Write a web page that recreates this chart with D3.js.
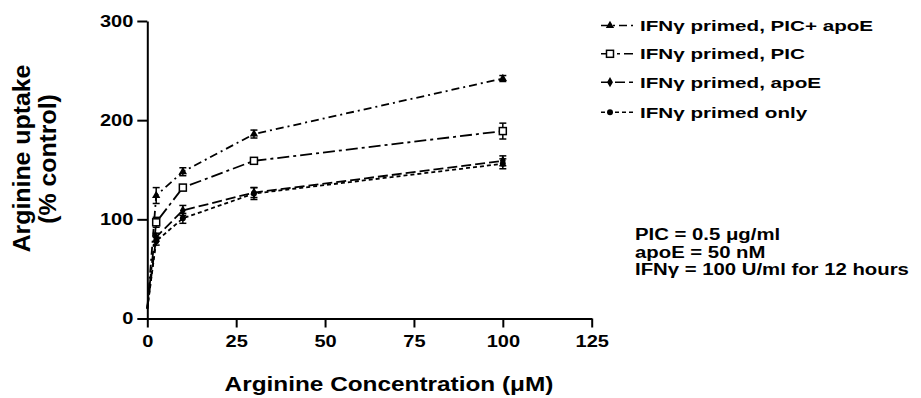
<!DOCTYPE html>
<html>
<head>
<meta charset="utf-8">
<script src="https://cdn.jsdelivr.net/npm/d3@7"></script>
<style>
  html, body { margin: 0; padding: 0; background: #fff; }
  svg { display: block; }
  text { font-family: "Liberation Sans", Arial, sans-serif; font-weight: bold; fill: #000; }
</style>
</head>
<body>
<svg id="chart" width="921" height="398"></svg>
<script>
// ---- data ----
const xValues = [0, 2.5, 10, 30, 100];
const seriesNames = ["IFNγ primed, PIC+ apoE", "IFNγ primed, PIC", "IFNγ primed, apoE", "IFNγ primed only"];
const picApoE = [10, 124, 148, 186, 242];
const picApoEErr = [0, 8, 4, 4, 3];
const pic = [10, 97, 132, 159, 189];
const picErr = [0, 5, 3, 3, 8];
const apoE = [10, 82, 109, 127, 159];
const apoEErr = [0, 4, 5, 5, 5];
const primedOnly = [10, 78, 101, 126, 156];
const primedOnlyErr = [0, 4, 5, 6, 5];
const xTicks = [0, 25, 50, 75, 100, 125];
const yTicks = [0, 100, 200, 300];
const notes = ["PIC = 0.5 μg/ml", "apoE = 50 nM", "IFNγ = 100 U/ml for 12 hours"];
const xTitle = "Arginine Concentration (μM)";
const yTitle = ["Arginine uptake", "(% control)"];

// ---- setup ----
const svg = d3.select("#chart");
const x = d3.scaleLinear().domain([0, 125]).range([147.3, 591.7]);
const y = d3.scaleLinear().domain([0, 300]).range([318.5, 21]);

function stretch(sel, k) {
  sel.each(function() {
    const w = this.getComputedTextLength();
    d3.select(this).attr("textLength", w * k).attr("lengthAdjust", "spacingAndGlyphs");
  });
}

const styles = [
  { dash: "8,4,2,4", marker: "triangle" },
  { dash: "12,4,3,4", marker: "square" },
  { dash: "10,4", marker: "diamond" },
  { dash: "4,3", marker: "circle" }
];
const values = [picApoE, pic, apoE, primedOnly];
const errs = [picApoEErr, picErr, apoEErr, primedOnlyErr];
const series = seriesNames.map((name, i) => ({
  name, style: styles[i],
  points: xValues.map((xv, j) => ({ x: xv, y: values[i][j], e: errs[i][j] }))
}));

// ---- axes ----
const gx = svg.append("g").attr("transform", `translate(0,${y(0)})`)
  .call(d3.axisBottom(x).tickValues(xTicks).tickSize(9).tickPadding(8).tickSizeOuter(0));
const gy = svg.append("g").attr("transform", `translate(${x(0)},0)`)
  .call(d3.axisLeft(y).tickValues(yTicks).tickSize(10).tickPadding(4).tickSizeOuter(0));
[gx, gy].forEach(g => {
  g.selectAll("path, line").attr("stroke", "#000").attr("stroke-width", 2);
  g.selectAll("text").attr("font-size", 16).attr("font-family", null);
  g.attr("font-family", null);
  stretch(g.selectAll("text"), 1.25);
});

// ---- lines ----
const line = d3.line().x(d => x(d.x)).y(d => y(d.y));
const plot = svg.append("g");
series.forEach(s => {
  plot.append("path").datum(s.points)
    .attr("d", line).attr("fill", "none").attr("stroke", "#000")
    .attr("stroke-width", 1.8).attr("stroke-dasharray", s.style.dash);
});

// error bars
series.forEach(s => {
  s.points.filter(p => p.e > 0).forEach(p => {
    const g = plot.append("g").attr("stroke", "#000").attr("stroke-width", 1.5);
    g.append("line").attr("x1", x(p.x)).attr("x2", x(p.x)).attr("y1", y(p.y + p.e)).attr("y2", y(p.y - p.e));
    g.append("line").attr("x1", x(p.x) - 3.5).attr("x2", x(p.x) + 3.5).attr("y1", y(p.y + p.e)).attr("y2", y(p.y + p.e));
    g.append("line").attr("x1", x(p.x) - 3.5).attr("x2", x(p.x) + 3.5).attr("y1", y(p.y - p.e)).attr("y2", y(p.y - p.e));
  });
});

function drawMarker(g, type, cx, cy) {
  if (type === "triangle") {
    g.append("path").attr("d", d3.symbol().type(d3.symbolTriangle).size(30)())
      .attr("transform", `translate(${cx},${cy})`).attr("fill", "#000");
  } else if (type === "square") {
    g.append("rect").attr("x", cx - 3.5).attr("y", cy - 3.5).attr("width", 7).attr("height", 7)
      .attr("fill", "#fff").attr("stroke", "#000").attr("stroke-width", 1.5);
  } else if (type === "diamond") {
    g.append("path").attr("d", d3.symbol().type(d3.symbolDiamond).size(30)())
      .attr("transform", `translate(${cx},${cy})`).attr("fill", "#000");
  } else {
    g.append("circle").attr("cx", cx).attr("cy", cy).attr("r", 3).attr("fill", "#000");
  }
}
series.forEach(s => {
  s.points.filter(p => p.x > 0).forEach(p => drawMarker(plot, s.style.marker, x(p.x), y(p.y)));
});

// ---- legend ----
const legendBase = [31, 59.3, 87.7, 117.7];
const leg = svg.append("g");
series.forEach((s, i) => {
  const by = legendBase[i] - 5.5;
  leg.append("line").attr("x1", 601).attr("x2", 633).attr("y1", by).attr("y2", by)
    .attr("stroke", "#000").attr("stroke-width", 1.5).attr("stroke-dasharray", s.style.dash);
  drawMarker(leg, s.style.marker, 610, by);
  leg.append("text").attr("x", 640).attr("y", legendBase[i]).attr("font-size", 15.5).text(s.name);
});
stretch(leg.selectAll("text"), 1.33);

// ---- notes ----
const noteG = svg.append("g");
notes.forEach((t, i) => {
  noteG.append("text").attr("x", 635).attr("y", 240 + i * 17.5).attr("font-size", 16).text(t);
});
stretch(noteG.selectAll("text"), 1.27);

// ---- axis titles ----
const xt = svg.append("text").attr("x", 389).attr("y", 391).attr("text-anchor", "middle")
  .attr("font-size", 21).text(xTitle);
stretch(xt, 1.16);

const yt = svg.append("g");
yt.append("text").attr("transform", "translate(30,158.5) rotate(-90)").attr("text-anchor", "middle")
  .attr("font-size", 23).text(yTitle[0]);
yt.append("text").attr("transform", "translate(56,159) rotate(-90)").attr("text-anchor", "middle")
  .attr("font-size", 23).text(yTitle[1]);
stretch(yt.selectAll("text"), 1.08);
</script>
</body>
</html>
